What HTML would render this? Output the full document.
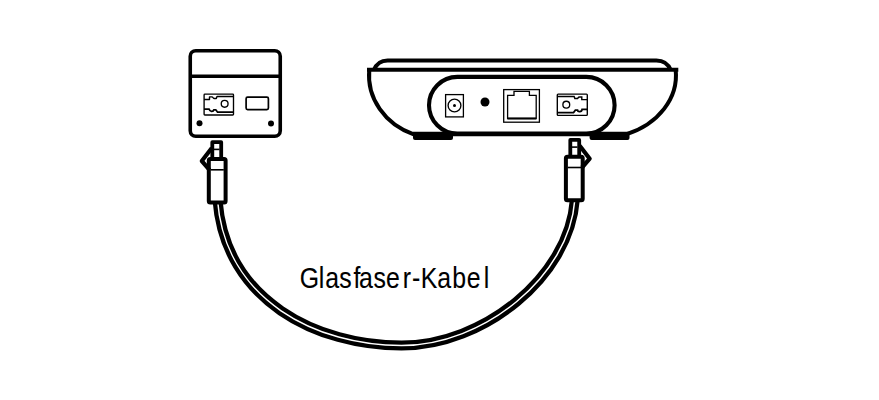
<!DOCTYPE html>
<html><head><meta charset="utf-8">
<style>
html,body{margin:0;padding:0;background:#fff;}
body{width:879px;height:400px;overflow:hidden;}
svg{display:block;}
text{font-family:"Liberation Sans",sans-serif;}
</style></head>
<body>
<svg width="879" height="400" viewBox="0 0 879 400">
<rect width="879" height="400" fill="#fff"/>
<g fill="none" stroke="#000" stroke-linejoin="round">
 <!-- left wall box -->
 <rect x="190.25" y="50.75" width="90" height="85.5" rx="5.5" stroke-width="3.6"/>
 <line x1="190" y1="76.25" x2="280.5" y2="76.25" stroke-width="3.6"/>
 <rect x="246.1" y="97.2" width="22.3" height="12.4" rx="1.5" stroke-width="1.7"/>
 <!-- left fiber port -->
 <g id="port" fill="none" stroke="#000">
  <rect x="204.1" y="94.1" width="29.4" height="20.9" rx="0.8" stroke-width="1.35"/>
  <path d="M204,99.5 H209.5 V96.9 H211.7 Q212.7,96.9 213.3,98 Q213.6,98.5 214.3,98.5 H216.3 L217,96.5 H233.6" stroke-width="1.4"/>
  <path d="M204,109.1 H209.2 C209.5,111.9 213.5,111.9 213.7,109.8 H215.8 L217.6,112.2 H233.6" stroke-width="1.7"/>
 </g>
 <circle cx="224.65" cy="103.8" r="3.4" stroke-width="1.35"/>
</g>
<circle cx="199.5" cy="123.3" r="3" fill="#000"/>
<circle cx="271" cy="123.5" r="3" fill="#000"/>

<!-- router -->
<g fill="none" stroke="#000" stroke-width="4" stroke-linejoin="round">
 <path d="M373.8,70 C376.5,63.5 381,60.4 387.6,60.4 H656.4 C663,60.4 668,63.5 670.8,70"/>
 <path d="M367,69.8 H678.3" stroke-linecap="butt" stroke-width="3.9"/>
 <path d="M369.25,70 A70,63.3 0 0 0 413.7,134.3 L417,134.3"/>
 <path d="M675.7,70 A78,63.3 0 0 1 626.1,134.3"/>
 <path d="M457.35,76.9 H586.25 A28.35,28.35 0 0 1 586.25,133.6 H457.35 A28.35,28.35 0 0 1 457.35,76.9 Z" stroke-width="4.1"/>
 <path d="M452,134.1 H592" stroke-width="4.4"/>
</g>
<path d="M413,131.8 H453 V138 Q453,140.1 451,140.1 H415 Q413,140.1 413,138 Z" fill="#000"/>
<path d="M589.6,131.8 H629.5 V138 Q629.5,140.1 627.5,140.1 H591.6 Q589.6,140.1 589.6,138 Z" fill="#000"/>
<g fill="none" stroke="#000">
 <rect x="445.6" y="94.6" width="17.8" height="22.3" stroke-width="1.3"/>
 <circle cx="454.5" cy="105.5" r="6.4" stroke-width="1.35"/>
 <rect x="503.7" y="89.6" width="35.7" height="32.6" stroke-width="1.3"/>
 <path d="M507.6,118.6 V95.3 H514 V91.4 H529.4 V95.3 H536.2 V118.6 Z" stroke-width="1.3"/>
 <line x1="507.6" y1="118.4" x2="536.2" y2="118.4" stroke-width="2"/>
</g>
<circle cx="454.5" cy="105.5" r="1.5" fill="#000"/>
<circle cx="485" cy="102" r="4.5" fill="#000"/>
<use href="#port" transform="translate(572.3,104.7) scale(-1.02,1.02) translate(-218.8,-104.5)"/>
<circle cx="566.3" cy="104.7" r="3.4" fill="none" stroke="#000" stroke-width="1.35"/>

<!-- cable -->
<path d="M217.5,200 C225.4,301.3 317.8,345.55 401.5,345.55 C483.5,345.55 569.1,276.7 574.8,200" fill="none" stroke="#000" stroke-width="10"/>
<path d="M217.5,200 C225.4,301.3 317.8,345.55 401.5,345.55 C483.5,345.55 569.1,276.7 574.8,200" fill="none" stroke="#fff" stroke-width="1.5"/>

<!-- connectors -->
<g id="conn" fill="none" stroke="#000" stroke-linejoin="round">
 <path d="M212.3,158 V142.2 H221.2 V158" stroke-width="3.8"/>
 <line x1="214" y1="149.4" x2="219.6" y2="149.4" stroke-width="1.6"/>
 <rect x="208.8" y="159" width="16.8" height="43.6" rx="1.5" fill="#fff" stroke-width="4"/>
 <line x1="210.5" y1="169.8" x2="223.8" y2="169.8" stroke-width="1.6"/>
 <path d="M211.8,148 L201.8,161 L209.5,169.8" stroke-width="4.2"/>
</g>
<use href="#conn" transform="translate(791.5,-2.3) scale(-1,1)"/>

<text transform="scale(0.84,1)" x="356.89 379.44 387.15 403.91 420.89 427.51 444.51 459.65 479.33 490.43 500.81 520.43 538.28 555.73 575.99" y="287.9" font-size="29.6" fill="#000" stroke="#000" stroke-width="0.1">Glasfaser-Kabel</text>
</svg>
</body></html>
